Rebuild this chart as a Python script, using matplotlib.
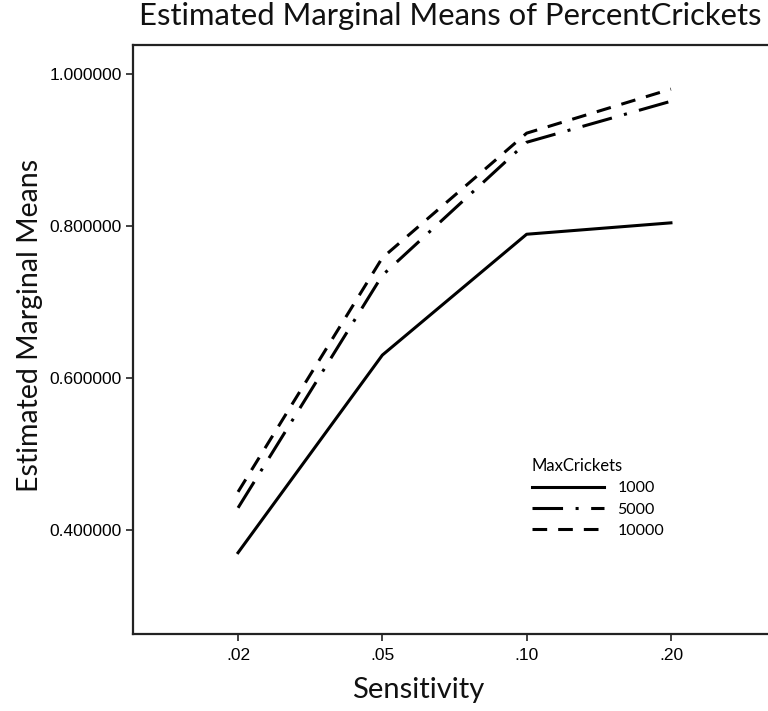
import matplotlib.pyplot as plt
import numpy as np

# data
sensitivity = ['.02', '.05', '.10', '.20']
max_crickets = ['1000', '5000', '10000']
means_1000 = [0.370, 0.630, 0.789, 0.804]
means_5000 = [0.429, 0.735, 0.910, 0.964]
means_10000 = [0.450, 0.758, 0.922, 0.980]
y_ticks = [0.4, 0.6, 0.8, 1.0]

W, H = 768, 711
fig = plt.figure(figsize=(W / 100, H / 100), dpi=100)
# axes box in pixels: left 133, top 45, bottom 634, right just past the edge
ax = fig.add_axes([133 / W, 1 - 634 / H, (776 - 133) / W, (634 - 45) / H])

x = np.arange(1, len(sensitivity) + 1)
lw = 2.2
ax.plot(x, means_1000, color='black', lw=lw, linestyle='-', label=max_crickets[0])
ax.plot(x, means_5000, color='black', lw=lw, linestyle=(0, (10, 4.1, 1, 4.1)), label=max_crickets[1])
ax.plot(x, means_10000, color='black', lw=lw, linestyle=(0, (4.8, 3.6)), label=max_crickets[2])

ax.set_xlim(0.272, 4.728)
ax.set_ylim(0.263, 1.038)
ax.set_xticks(x)
ax.set_xticklabels(sensitivity)
ax.set_yticks(y_ticks)
ax.set_yticklabels(['%.6f' % v for v in y_ticks])

ax.spines['right'].set_visible(False)
for s in ['left', 'bottom', 'top']:
    ax.spines[s].set_linewidth(1.6)
    ax.spines[s].set_color('#222222')

for lab in ax.get_xticklabels() + ax.get_yticklabels():
    lab.set_fontfamily('Liberation Sans')
    lab.set_fontsize(12.5)
ax.tick_params(axis='both', length=5, width=1.2, color='#222222', pad=3)
ax.tick_params(axis='x', pad=5)

# axis labels and title placed in figure pixels
fig.text(418 / W, 1 - 690 / H, 'Sensitivity', family='Lato', fontsize=21,
         ha='center', va='center', color='#111111')
fig.text(30 / W, 1 - 325 / H, 'Estimated Marginal Means', family='Lato', fontsize=20.5,
         rotation=90, ha='center', va='center', color='#111111')
fig.text(450 / W, 1 - 16 / H, 'Estimated Marginal Means of PercentCrickets',
         family='Lato', fontsize=22.3, ha='center', va='center', color='#111111')

leg = ax.legend(title='MaxCrickets', frameon=False, loc='upper left',
                bbox_to_anchor=(519 / W, 1 - 445 / H), bbox_transform=fig.transFigure,
                handlelength=4.5, handletextpad=0.85, labelspacing=0.45,
                alignment='left', borderpad=0.3,
                prop=dict(family='Lato', size=11.5))
leg.get_title().set_fontfamily('Lato')
leg.get_title().set_fontsize(12)

plt.savefig('out.png', dpi=100)
